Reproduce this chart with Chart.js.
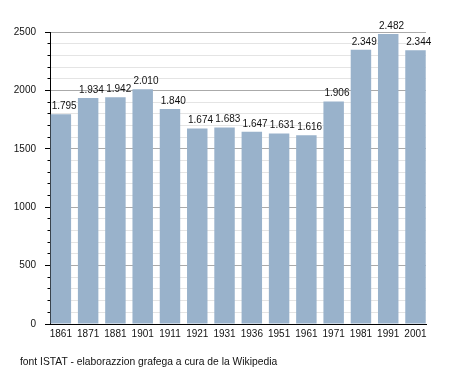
<!DOCTYPE html>
<html>
<head>
<meta charset="utf-8">
<script src="https://cdn.jsdelivr.net/npm/chart.js@4/dist/chart.umd.min.js"></script>
<style>
html,body{margin:0;padding:0;background:#fff;}
canvas{display:block;}
</style>
</head>
<body>
<canvas id="c" width="455" height="373"></canvas>
<script>
const years = ['1861','1871','1881','1901','1911','1921','1931','1936','1951','1961','1971','1981','1991','2001'];
const population = [1795,1934,1942,2010,1840,1674,1683,1647,1631,1616,1906,2349,2482,2344];
const yTicksMajor = [0,500,1000,1500,2000,2500];
const footer = 'font ISTAT - elaborazzion grafega a cura de la Wikipedia';

const FONT = '"Liberation Sans", Arial, sans-serif';
const fmt = v => String(v).replace(/\B(?=(\d{3})+(?!\d))/g, '.');

const valueLabels = {
  id: 'valueLabels',
  afterDatasetsDraw(chart) {
    const ctx = chart.ctx;
    const meta = chart.getDatasetMeta(0);
    ctx.save();
    ctx.font = '10px ' + FONT;
    ctx.fillStyle = '#111';
    ctx.textAlign = 'left';
    ctx.textBaseline = 'alphabetic';
    meta.data.forEach((bar, i) => {
      ctx.fillText(fmt(population[i]), bar.x - bar.width / 2 + 1, bar.y - 5);
    });
    ctx.restore();
  }
};

const footerText = {
  id: 'footerText',
  afterDraw(chart) {
    const ctx = chart.ctx;
    ctx.save();
    ctx.font = '10.3px ' + FONT;
    ctx.fillStyle = '#111';
    ctx.textAlign = 'left';
    ctx.textBaseline = 'middle';
    ctx.fillText(footer, 20, 362);
    ctx.restore();
  }
};

new Chart(document.getElementById('c'), {
  type: 'bar',
  data: {
    datasets: [{
      data: population.map((v, i) => ({x: i, y: v})),
      backgroundColor: '#99b2cb',
      borderWidth: 0,
      categoryPercentage: 1,
      barPercentage: 0.75
    }]
  },
  options: {
    responsive: false,
    animation: false,
    events: [],
    layout: {padding: {left: 0, right: 29, top: 32, bottom: 0}},
    plugins: {
      legend: {display: false},
      tooltip: {enabled: false},
      title: {display: false}
    },
    scales: {
      x: {
        type: 'linear',
        offset: false,
        min: -0.398,
        max: 13.385,
        grid: {display: false, drawTicks: false, offset: false},
        border: {display: true, color: '#000', width: 1},
        ticks: {
          stepSize: 1,
          includeBounds: false,
          autoSkip: false,
          maxRotation: 0,
          padding: 4,
          color: '#111',
          font: {family: FONT, size: 10},
          callback: v => Number.isInteger(v) && years[v] !== undefined ? years[v] : ''
        },
        afterFit: s => { s.height = 49; s.paddingLeft = 0; s.paddingRight = 0; }
      },
      y: {
        min: 0,
        max: 2500,
        grid: {
          color: c => (c.tick && c.tick.value % 500 === 0) ? '#aaaaaa' : '#e4e4e4',
          lineWidth: 1,
          drawTicks: true,
          tickLength: 5,
          tickColor: '#000',
          tickBorderDash: c => (c.tick && c.tick.value % 500 === 0) ? [] : [0, 2.5, 10, 0]
        },
        border: {display: true, color: '#000', width: 1},
        ticks: {
          stepSize: 100,
          autoSkip: false,
          padding: 9,
          color: '#111',
          font: {family: FONT, size: 10},
          callback: v => yTicksMajor.includes(v) ? String(v) : ''
        },
        afterFit: s => { s.width = 50; s.paddingTop = 0; s.paddingBottom = 0; }
      }
    }
  },
  plugins: [valueLabels, footerText]
});
</script>
</body>
</html>
